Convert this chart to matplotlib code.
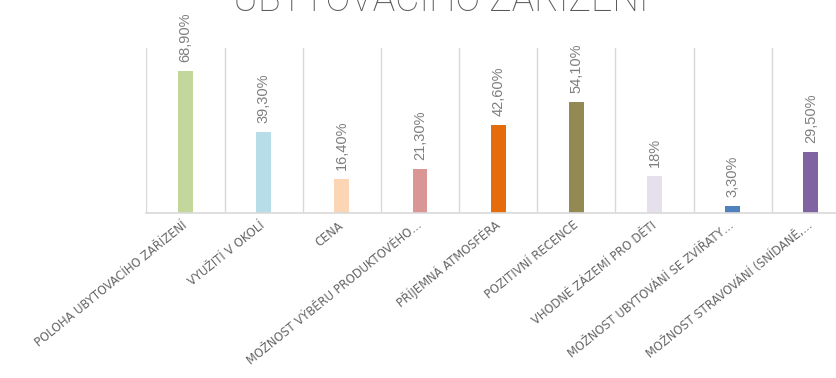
import matplotlib
matplotlib.use("Agg")
from matplotlib import pyplot as plt

# categories and shares (percent of respondents)
categories = [
    "POLOHA UBYTOVACÍHO ZAŘÍZENÍ",
    "VYUŽITÍ V OKOLÍ",
    "CENA",
    "MOŽNOST VÝBĚRU PRODUKTOVÉHO…",
    "PŘÍJEMNÁ ATMOSFÉRA",
    "POZITIVNÍ RECENCE",
    "VHODNÉ ZÁZEMÍ PRO DĚTI",
    "MOŽNOST UBYTOVÁNÍ SE ZVÍŘATY…",
    "MOŽNOST STRAVOVÁNÍ (SNÍDANĚ,…",
]
values = [68.9, 39.3, 16.4, 21.3, 42.6, 54.1, 18.0, 3.3, 29.5]
value_labels = ["68,90%", "39,30%", "16,40%", "21,30%", "42,60%",
                "54,10%", "18%", "3,30%", "29,50%"]
colors = ["#c3d69b", "#b7dde8", "#fcd5b5", "#d99694", "#e46c0a",
          "#938953", "#e5e0ec", "#4f81bd", "#8064a2"]

fig = plt.figure(figsize=(8.37, 3.78), dpi=100)
# plot area runs past the right edge, the last category is cut off
ax = fig.add_axes([0.175, 0.4373, 0.8405, 0.4349])

x = list(range(len(categories)))
bars = ax.bar(x, values, width=0.19, color=colors, zorder=3)

ax.set_xlim(-0.5, len(categories) - 0.5)
ax.set_ylim(0, 80)
ax.set_yticks([])

# vertical separators between categories
for b in range(len(categories) + 1):
    ax.axvline(b - 0.5, color="#d9d9d9", lw=1.0, zorder=1)

for s in ["top", "right", "left"]:
    ax.spines[s].set_visible(False)
ax.spines["bottom"].set_color("#d9d9d9")
ax.spines["bottom"].set_linewidth(1.2)
ax.spines["bottom"].set_zorder(4)

ax.set_xticks(x)
ax.set_xticklabels(categories, rotation=39, ha="right", va="center",
                   rotation_mode="anchor", fontsize=8.3, color="#666666",
                   family=["DejaVu Sans"])
ax.tick_params(axis="x", length=0, pad=8)

for xi, v, lab in zip(x, values, value_labels):
    ax.annotate(lab, (xi, v), xytext=(0, 6.5), textcoords="offset points",
                rotation=90, ha="center", va="bottom", fontsize=10.5,
                color="#7f7f7f", family=["Liberation Sans", "DejaVu Sans"],
                annotation_clip=False)

fig.text(0.527, 0.972, "UBYTOVACÍHO ZAŘÍZENÍ", ha="center", va="baseline",
         fontsize=27, color="#595959", fontweight="light",
         family=["Roboto", "DejaVu Sans"])

fig.savefig("out.png", dpi=100, facecolor="white")
